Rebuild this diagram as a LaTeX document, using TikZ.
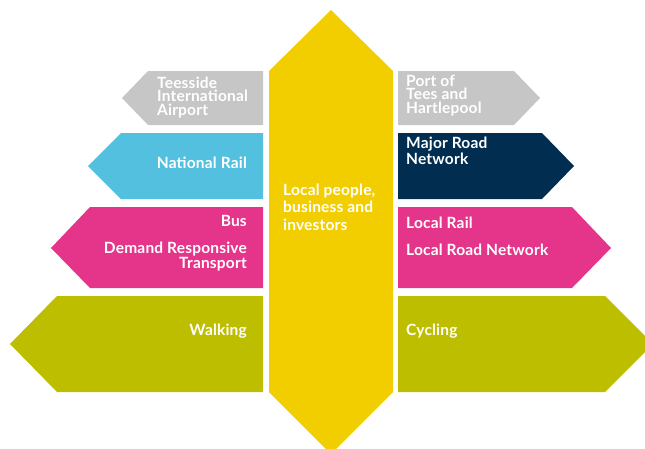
\documentclass[tikz,border=0pt]{standalone}
\usepackage{fontspec}
\setsansfont{Lato}[LetterSpace=1.2]
\definecolor{hubyellow}{HTML}{F2CE00}
\definecolor{modegray}{HTML}{C6C6C6}
\definecolor{railblue}{HTML}{52C0DE}
\definecolor{roadnavy}{HTML}{002D50}
\definecolor{localpink}{HTML}{E4358A}
\definecolor{activeolive}{HTML}{BEBE00}
\tikzset{
  lbl/.style={text=white,inner sep=0,
    font=\sffamily\bfseries\fontsize{15.5}{13.5}\selectfont},
}
\begin{document}
\begin{tikzpicture}[x=1pt,y=-1pt]
  \clip (0,0) rectangle (645,448);
  % centre
  \fill[hubyellow] (269,71) -- (331,10) -- (393,71) -- (393,392)
    -- (331,454) -- (269,392) -- cycle;
  % left arrows
  \fill[modegray] (263,71) -- (148,71) -- (122,98) -- (148,125) -- (263,125) -- cycle;
  \fill[railblue] (263,133) -- (121,133) -- (88,166) -- (121,199) -- (263,199) -- cycle;
  \fill[localpink] (263,207) -- (90,207) -- (51,248) -- (90,288) -- (263,288) -- cycle;
  \fill[activeolive] (263,296) -- (57,296) -- (10,344) -- (57,392) -- (263,392) -- cycle;
  % right arrows
  \fill[modegray] (398,71) -- (514,71) -- (540,98) -- (514,125) -- (398,125) -- cycle;
  \fill[roadnavy] (398,133) -- (542,133) -- (574,166) -- (542,199) -- (398,199) -- cycle;
  \fill[localpink] (398,207) -- (572,207) -- (611,248) -- (572,288) -- (398,288) -- cycle;
  \fill[activeolive] (398,296) -- (605,296) -- (653,344) -- (605,392) -- (398,392) -- cycle;

  % labels (base = last line)
  \node[lbl,anchor=base west,align=left,font=\sffamily\bfseries\fontsize{15.5}{17.5}\selectfont]
    (people) at (283,230) {Local people,\\business and\\investors};
  \node[lbl,anchor=base west,align=left] (airport) at (157,115) {Teesside\\International\\Airport};
  \node[lbl,anchor=base east] (natrail) at (247,168) {National Rail};
  \node[lbl,anchor=base east,align=right] (bus) at (247,268) {Bus\\[13.5pt]Demand Responsive\\Transport};
  \node[lbl,anchor=base east] (walking) at (247,335) {Walking};
  \node[lbl,anchor=base west,align=left] (port) at (406,113) {Port of\\Tees and\\Hartlepool};
  \node[lbl,anchor=base west,align=left] (mrn) at (406,164) {Major Road\\Network};
  \node[lbl,anchor=base west,align=left] (localrail) at (406,255) {Local Rail\\[13.5pt]Local Road Network};
  \node[lbl,anchor=base west] (cycling) at (406,335) {Cycling};
\end{tikzpicture}
\end{document}
